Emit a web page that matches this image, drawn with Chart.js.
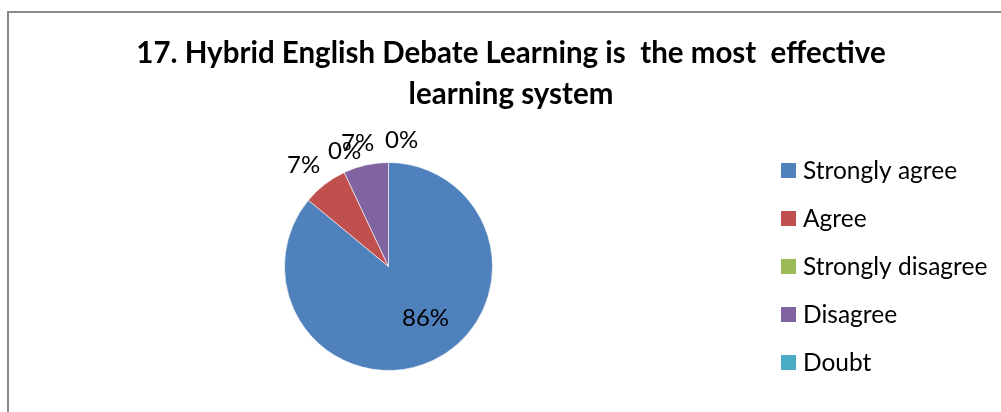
<!DOCTYPE html>
<html>
<head>
<meta charset="utf-8">
<script src="https://cdn.jsdelivr.net/npm/chart.js@4.4.1/dist/chart.umd.min.js"></script>
<style>
  html, body { margin: 0; padding: 0; background: #fff; }
  #wrap { position: relative; width: 1001px; height: 412px; overflow: hidden; }
  #frame { position: absolute; left: 7px; top: 11px; width: 1100px; height: 500px;
           border-left: 2px solid #8a8a8a; border-top: 2px solid #8a8a8a; }
  #pie { position: absolute; left: 0; top: 0; }
</style>
</head>
<body>
<div id="wrap">
  <div id="frame"></div>
  <canvas id="pie" width="1001" height="412"></canvas>
</div>
<script>
// survey answers, in percent
const answers = ["Strongly agree", "Agree", "Strongly disagree", "Disagree", "Doubt"];
const shares = [86, 7, 0, 7, 0];
const sliceColors = ["#4F81BD", "#C0504D", "#9BBB59", "#8064A2", "#4BACC6"];
const titleLines = ["17. Hybrid English Debate Learning is  the most  effective", "learning system"];

// where each percentage sits: [radius factor, angle shift in degrees]
const labelSpots = [[0.615, -10.2], [1.27, -2.2], [1.19, 4.4], [1.22, -1.5], [1.22, 5.9]];

const extras = {
  id: 'extras',
  afterDraw(chart) {
    const ctx = chart.ctx;
    ctx.save();
    ctx.fillStyle = '#000';
    ctx.textAlign = 'center';
    ctx.textBaseline = 'alphabetic';

    // heading
    ctx.font = 'bold 29.5px Lato';
    ctx.fillText(titleLines[0], 511, 63);
    ctx.fillText(titleLines[1], 511, 104);

    // percentage labels
    const arcs = chart.getDatasetMeta(0).data;
    ctx.font = '24px Lato';
    ctx.textBaseline = 'middle';
    arcs.forEach((arc, i) => {
      const mid = (arc.startAngle + arc.endAngle) / 2 + labelSpots[i][1] * Math.PI / 180;
      const r = arc.outerRadius * labelSpots[i][0];
      ctx.fillText(shares[i] + '%', arc.x + Math.cos(mid) * r, arc.y + Math.sin(mid) * r);
    });

    // legend
    ctx.textAlign = 'left';
    ctx.font = '24.5px Lato';
    answers.forEach((name, i) => {
      const y = 170 + i * 48;
      ctx.fillStyle = sliceColors[i];
      ctx.fillRect(781, y - 7, 15, 15);
      ctx.fillStyle = '#000';
      ctx.fillText(name, 803, y + 1);
    });
    ctx.restore();
  }
};

new Chart(document.getElementById('pie'), {
  type: 'pie',
  data: {
    labels: answers,
    datasets: [{
      data: shares,
      backgroundColor: sliceColors,
      borderColor: 'rgba(255,255,255,0.6)',
      borderWidth: 1
    }]
  },
  options: {
    responsive: false,
    animation: false,
    layout: { padding: { left: 284, top: 162, right: 508, bottom: 41 } },
    plugins: {
      legend: { display: false },
      title: { display: false },
      tooltip: { enabled: false }
    }
  },
  plugins: [extras]
});
</script>
</body>
</html>
